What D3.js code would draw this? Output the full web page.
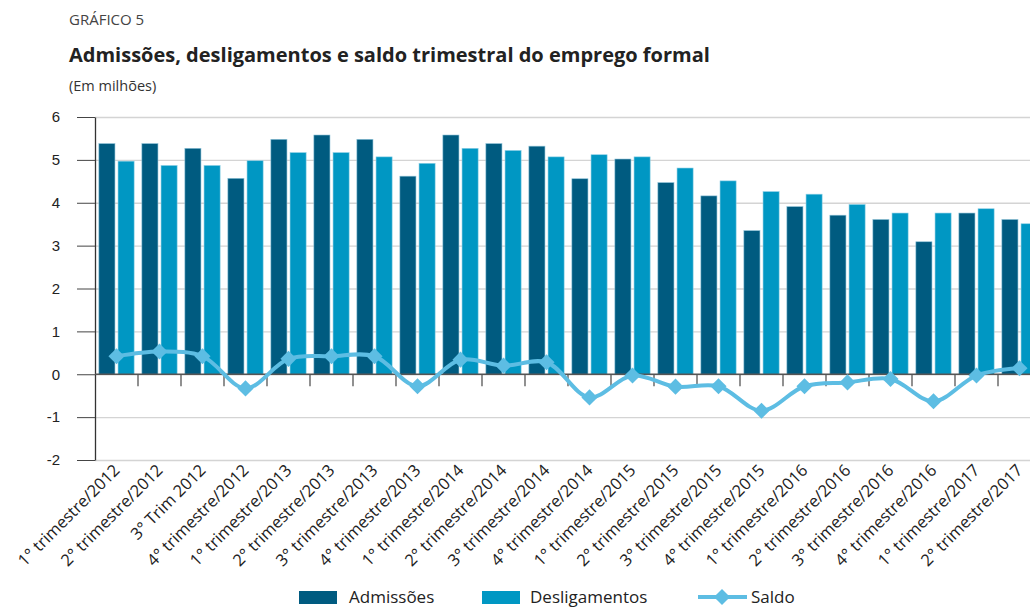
<!DOCTYPE html>
<html>
<head>
<meta charset="utf-8">
<script src="https://cdnjs.cloudflare.com/ajax/libs/d3/7.8.5/d3.min.js"></script>
<style>
  body { margin: 0; background: #fff; }
  svg { font-family: "Open Sans", sans-serif; display: block; }
  .grid line { stroke: #d4d4d4; stroke-width: 1.3; }
  .grid path { display: none; }
  .y.axis path { stroke: #333; stroke-width: 1.3; }
  .y.axis line { stroke: #444; }
  .y.axis text { font-size: 15px; fill: #222; }
  .bar.adm { fill: #005b80; stroke: #8fc3d8; stroke-width: 0.6; }
  .bar.desl { fill: #0097c3; stroke: #8fd0e6; stroke-width: 0.6; }
  .saldo { fill: none; stroke: #5dbde3; stroke-width: 4; }
  .dot { fill: #5dbde3; }
</style>
</head>
<body>
<div id="chart"></div>
<script>
var categories = [
  "1° trimestre/2012", "2° trimestre/2012", "3° Trim 2012", "4° trimestre/2012",
  "1° trimestre/2013", "2° trimestre/2013", "3° trimestre/2013", "4° trimestre/2013",
  "1° trimestre/2014", "2° trimestre/2014", "3° trimestre/2014", "4° trimestre/2014",
  "1° trimestre/2015", "2° trimestre/2015", "3° trimestre/2015", "4° trimestre/2015",
  "1° trimestre/2016", "2° trimestre/2016", "3° trimestre/2016", "4° trimestre/2016",
  "1° trimestre/2017", "2° trimestre/2017"
];
var admissoes = [5.38, 5.38, 5.27, 4.57, 5.48, 5.58, 5.48, 4.62, 5.58, 5.38, 5.32, 4.56,
                 5.02, 4.47, 4.16, 3.35, 3.91, 3.71, 3.61, 3.09, 3.76, 3.61];
var desligamentos = [4.97, 4.87, 4.87, 4.98, 5.17, 5.17, 5.07, 4.92, 5.27, 5.22, 5.07, 5.12,
                     5.07, 4.81, 4.51, 4.26, 4.20, 3.96, 3.76, 3.76, 3.86, 3.51];
var saldo = [0.42, 0.53, 0.42, -0.33, 0.36, 0.42, 0.42, -0.28, 0.34, 0.20, 0.28, -0.54,
             -0.03, -0.29, -0.28, -0.85, -0.28, -0.19, -0.11, -0.63, -0.03, 0.14];
var yTicks = [-2, -1, 0, 1, 2, 3, 4, 5, 6];
var seriesNames = ["Admissões", "Desligamentos", "Saldo"];

var width = 1030, height = 607;
var margin = {top: 117, left: 95, bottom: 147};
var plotW = 946, plotH = height - margin.top - margin.bottom;

var svg = d3.select("#chart").append("svg")
    .attr("width", width)
    .attr("height", height);

// titles
svg.append("text").attr("x", 69).attr("y", 25)
    .style("font-size", "15px").style("fill", "#444")
    .text("GRÁFICO 5");
svg.append("text").attr("x", 69).attr("y", 62)
    .style("font-size", "20px").style("font-weight", "bold").style("fill", "#222")
    .text("Admissões, desligamentos e saldo trimestral do emprego formal");
svg.append("text").attr("x", 69).attr("y", 91)
    .style("font-size", "14.5px").style("fill", "#333")
    .text("(Em milhões)");

var g = svg.append("g")
    .attr("transform", "translate(" + margin.left + "," + margin.top + ")");

var x = d3.scaleBand().domain(categories).range([0, plotW]).paddingInner(0.18).paddingOuter(0.09);
var xOuter = d3.scaleBand().domain(categories).range([0, plotW]);
var xSub = d3.scaleBand().domain(["adm", "desl"]).range([0, x.bandwidth()]).paddingInner(0.16);
var y = d3.scaleLinear().domain([-2, 6]).range([plotH, 0]);

// gridlines
g.append("g")
    .attr("class", "grid")
    .call(d3.axisLeft(y).tickValues(yTicks).tickSize(-plotW).tickFormat(""));

// bars
var data = categories.map(function(c, i) {
  return {cat: c, adm: admissoes[i], desl: desligamentos[i], saldo: saldo[i]};
});

g.selectAll(".bar.adm")
    .data(data)
  .enter().append("rect")
    .attr("class", "bar adm")
    .attr("x", function(d) { return x(d.cat) + xSub("adm"); })
    .attr("width", xSub.bandwidth())
    .attr("y", function(d) { return y(d.adm); })
    .attr("height", function(d) { return y(0) - y(d.adm); });

g.selectAll(".bar.desl")
    .data(data)
  .enter().append("rect")
    .attr("class", "bar desl")
    .attr("x", function(d) { return x(d.cat) + xSub("desl"); })
    .attr("width", xSub.bandwidth())
    .attr("y", function(d) { return y(d.desl); })
    .attr("height", function(d) { return y(0) - y(d.desl); });

// y axis
g.append("g")
    .attr("class", "y axis")
    .call(d3.axisLeft(y).tickValues(yTicks).tickSize(18).tickSizeOuter(0).tickPadding(8)
      .tickFormat(function(d) { return String(d); }))
    .selectAll("text").attr("dx", "-9");

// zero line with category ticks
var zero = g.append("g").attr("transform", "translate(0," + y(0) + ")");
zero.append("line").attr("x1", 0).attr("x2", plotW)
    .attr("stroke", "#555").attr("stroke-width", 1.5);
zero.selectAll(".ctick")
    .data(categories.slice(1))
  .enter().append("line")
    .attr("class", "ctick")
    .attr("x1", function(d) { return xOuter(d); })
    .attr("x2", function(d) { return xOuter(d); })
    .attr("y1", 0).attr("y2", 12)
    .attr("stroke", "#555").attr("stroke-width", 1.3);

// x labels
g.append("g").selectAll("text")
    .data(categories)
  .enter().append("text")
    .attr("class", "xlab")
    .attr("transform", function(d) {
      return "translate(" + (xOuter(d) + xOuter.bandwidth() / 2 - 4) + "," + (plotH + 3) + ") rotate(-45)";
    })
    .attr("dy", "0.71em")
    .attr("text-anchor", "end")
    .style("font-size", "16.5px").style("fill", "#222")
    .text(function(d) { return d; });

// saldo line
var line = d3.line()
    .x(function(d) { return xOuter(d.cat) + xOuter.bandwidth() / 2; })
    .y(function(d) { return y(d.saldo); })
    .curve(d3.curveCatmullRom);

g.append("path").datum(data).attr("class", "saldo").attr("d", line);

var diamond = d3.symbol().type(d3.symbolSquare).size(130);
g.selectAll(".dot")
    .data(data)
  .enter().append("path")
    .attr("class", "dot")
    .attr("d", diamond)
    .attr("transform", function(d) {
      return "translate(" + (xOuter(d.cat) + xOuter.bandwidth() / 2) + "," + y(d.saldo) + ") rotate(45)";
    });

// legend
var leg = svg.append("g").attr("transform", "translate(0,597)");
leg.append("rect").attr("x", 299).attr("y", -6).attr("width", 38).attr("height", 13).attr("fill", "#005b80");
leg.append("text").attr("x", 349).attr("y", 6).style("font-size", "17px").style("fill", "#222").text(seriesNames[0]);
leg.append("rect").attr("x", 482).attr("y", -6).attr("width", 38).attr("height", 13).attr("fill", "#0097c3");
leg.append("text").attr("x", 530).attr("y", 6).style("font-size", "17px").style("fill", "#222").text(seriesNames[1]);
leg.append("line").attr("x1", 698).attr("x2", 747).attr("y1", 0).attr("y2", 0)
    .attr("stroke", "#5dbde3").attr("stroke-width", 4);
leg.append("path").attr("d", diamond).attr("fill", "#5dbde3")
    .attr("transform", "translate(722,0) rotate(45)");
leg.append("text").attr("x", 751).attr("y", 6).style("font-size", "17px").style("fill", "#222").text(seriesNames[2]);
</script>
</body>
</html>
